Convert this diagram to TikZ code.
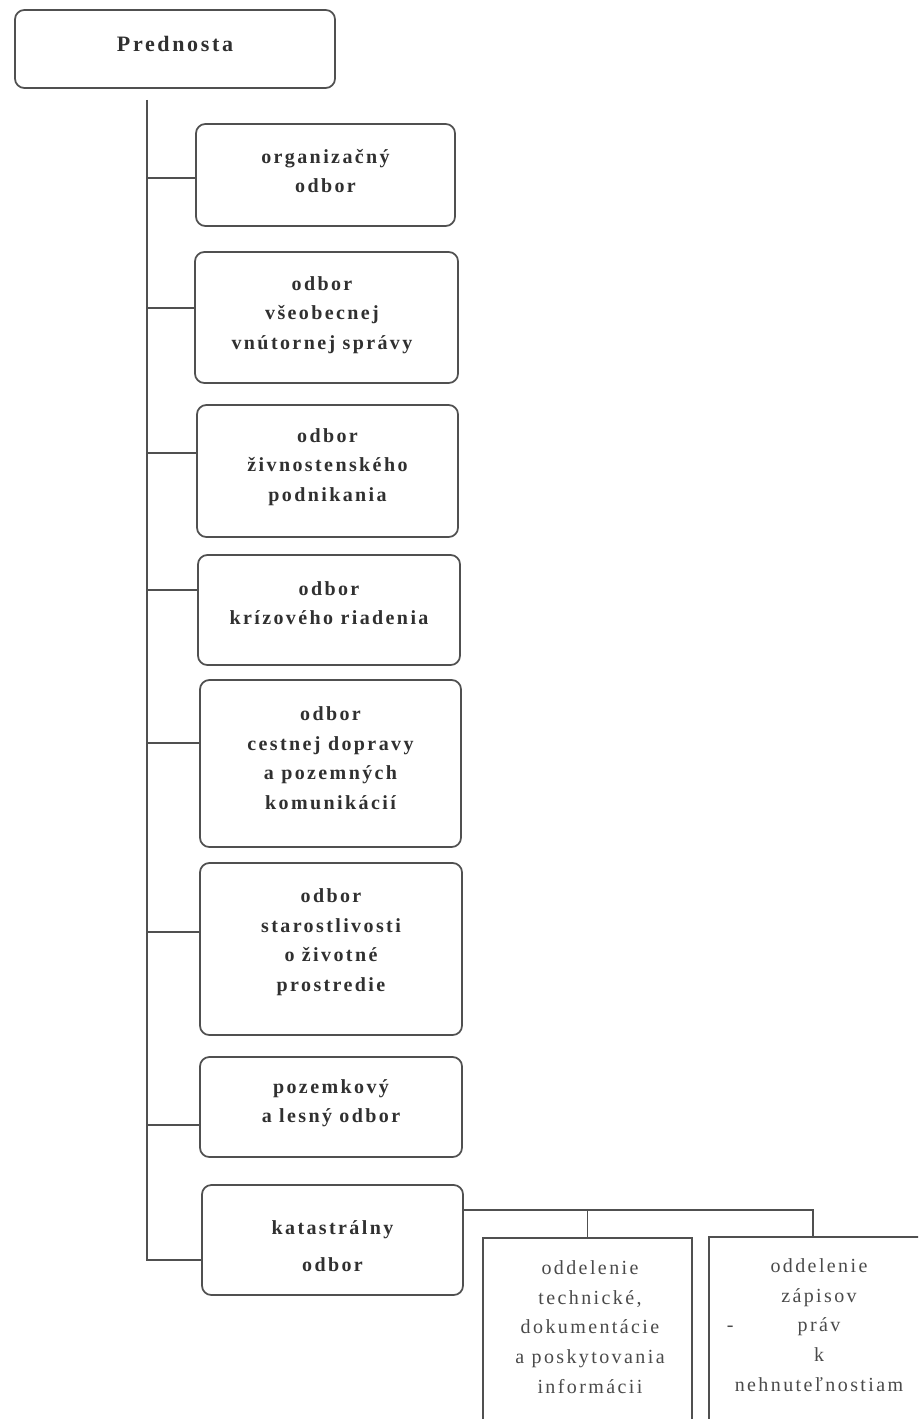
\documentclass[tikz,border=0pt]{standalone}
\usepackage{fontspec}
\setmainfont{Liberation Serif}[LetterSpace=12]
\definecolor{linec}{HTML}{505050}
\definecolor{txtc}{HTML}{303030}
\definecolor{txtl}{HTML}{4A4A4A}
\begin{document}
\begin{tikzpicture}[x=0.75pt,y=-0.75pt,
  rbox/.style={draw=linec, line width=1.3pt, rounded corners=7pt, inner sep=0pt},
  sbox/.style={draw=linec, line width=1.3pt, inner sep=0pt},
  btxt/.style={align=center, text=txtc, font=\fontsize{15}{22.2}\selectfont\bfseries, inner sep=0pt},
  rtxt/.style={align=center, text=txtl, font=\fontsize{15}{22.2}\selectfont, inner sep=0pt},
  conn/.style={draw=linec, line width=1.3pt}]
\useasboundingbox[fill=white] (0,0) rectangle (918,1419);
\clip (0,0) rectangle (918,1419);

% boxes
\node[rbox, minimum width=240pt, minimum height=58.5pt] (P) at (175,49) {};
\node[btxt, font=\fontsize{16.5}{20}\selectfont\bfseries] (Pt) at (175,44) {Prednosta};

\node[rbox, minimum width=194.25pt, minimum height=76.5pt] (b1) at (325.5,175) {};
\node[btxt] (t1) at (325.5,171) {organizačný\\odbor};

\node[rbox, minimum width=197.25pt, minimum height=98.25pt] (b2) at (326.5,317.5) {};
\node[btxt] (t2) at (322,315) {odbor\\všeobecnej\\vnútornej správy};

\node[rbox, minimum width=195.75pt, minimum height=99pt] (b3) at (327.5,471) {};
\node[btxt] (t3) at (327.5,467) {odbor\\živnostenského\\podnikania};

\node[rbox, minimum width=196.5pt, minimum height=82.5pt] (b4) at (329,610) {};
\node[btxt] (t4) at (329,603) {odbor\\krízového riadenia};

\node[rbox, minimum width=195.75pt, minimum height=125.25pt] (b5) at (330.5,763.5) {};
\node[btxt] (t5) at (330.5,758) {odbor\\cestnej dopravy\\a pozemných\\komunikácií};

\node[rbox, minimum width=196.5pt, minimum height=129pt] (b6) at (331,949) {};
\node[btxt] (t6) at (331,942) {odbor\\starostlivosti\\o životné\\prostredie};

\node[rbox, minimum width=196.5pt, minimum height=75pt] (b7) at (331,1107) {};
\node[btxt] (t7) at (331,1103) {pozemkový\\a lesný odbor};

\node[rbox, minimum width=195.75pt, minimum height=82.5pt] (b8) at (332.5,1240) {};
\node[btxt] (t8) at (332.5,1246) {katastrálny\\[6pt]odbor};

\node[sbox, minimum width=156.75pt, minimum height=144pt] (s1) at (587.5,1334) {};
\node[rtxt] (u1) at (590,1327) {oddelenie\\technické,\\dokumentácie\\a poskytovania\\informácii};

\node[sbox, minimum width=165.75pt, minimum height=144.75pt] (s2) at (819.5,1333.5) {};
\node[rtxt] (u2) at (819,1325) {oddelenie\\zápisov\\\llap{-\hspace{48pt}}práv\\k\\nehnuteľnostiam};

% connectors
\coordinate (top) at (147,100);
\coordinate (bot) at (147,1260);
\draw[conn] (top) -- (bot) -- (bot -| b8.west);
\coordinate (c1) at (147,178);
\coordinate (c2) at (147,308);
\coordinate (c3) at (147,453);
\coordinate (c4) at (147,590);
\coordinate (c5) at (147,743);
\coordinate (c6) at (147,932);
\coordinate (c7) at (147,1125);
\draw[conn] (c1) -- (c1 -| b1.west);
\draw[conn] (c2) -- (c2 -| b2.west);
\draw[conn] (c3) -- (c3 -| b3.west);
\draw[conn] (c4) -- (c4 -| b4.west);
\draw[conn] (c5) -- (c5 -| b5.west);
\draw[conn] (c6) -- (c6 -| b6.west);
\draw[conn] (c7) -- (c7 -| b7.west);

\coordinate (d1) at (587.5,1210);
\coordinate (d2) at (813,1210);
\draw[conn] (d1 -| b8.east) -- (d2) -- (d2 |- s2.north);
\draw[conn] (d1) -- (d1 |- s1.north);
\end{tikzpicture}
\end{document}
